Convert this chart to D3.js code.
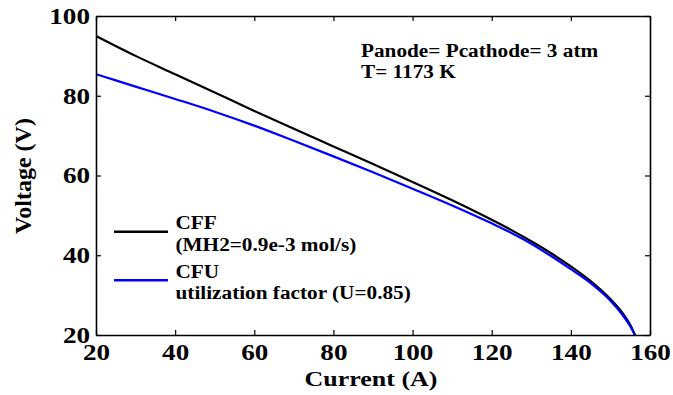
<!DOCTYPE html>
<html>
<head>
<meta charset="utf-8">
<script src="https://cdn.jsdelivr.net/npm/d3@7"></script>
</head>
<body style="margin:0">
<svg id="chart" width="673" height="395" style="font-family: serif"></svg>
<script>
// Polarization curves: stack voltage versus current
const currentCFF = [20, 30, 40, 50, 60, 70, 80, 90, 100, 110, 120, 125, 130, 135, 140, 145, 150, 153, 155, 156.2];
const voltageCFF = [95.0, 90.0, 85.4, 80.8, 76.2, 71.7, 67.3, 62.9, 58.4, 53.8, 48.9, 46.3, 43.5, 40.5, 37.2, 33.5, 29.0, 25.6, 22.6, 20.0];

const currentCFU = [20, 30, 40, 50, 60, 70, 80, 90, 100, 110, 120, 125, 130, 135, 140, 145, 150, 153, 155, 156.2];
const voltageCFU = [85.4, 82.3, 79.2, 76.0, 72.5, 68.7, 64.8, 60.8, 56.7, 52.5, 48.0, 45.6, 42.9, 39.8, 36.5, 33.0, 28.6, 25.1, 22.2, 20.0];

const xTicks = [20, 40, 60, 80, 100, 120, 140, 160];
const yTicks = [20, 40, 60, 80, 100];

const legendLabels = [
  ["CFF", "(MH2=0.9e-3 mol/s)"],
  ["CFU", "utilization factor (U=0.85)"]
];
const seriesColors = ["#000000", "#0000ff"];
const annotationLines = ["Panode= Pcathode= 3 atm", "T= 1173 K"];

const widen = 1.18; // horizontal stretch of the lettering

const svg = d3.select("#chart");
const plot = { left: 96, right: 650, top: 16, bottom: 335 };

const x = d3.scaleLinear().domain([20, 160]).range([plot.left, plot.right]);
const y = d3.scaleLinear().domain([20, 100]).range([plot.bottom, plot.top]);

function styleText(sel, size) {
  return sel
    .style("font-family", "serif")
    .style("font-weight", "bold")
    .style("font-size", size + "px");
}

// Stretch glyphs sideways by setting an explicit text length
function stretch(sel) {
  sel.each(function () {
    const w = this.getComputedTextLength();
    d3.select(this)
      .attr("textLength", w * widen)
      .attr("lengthAdjust", "spacingAndGlyphs");
  });
  return sel;
}

function label(parent, px, py, str, size, anchor) {
  const t = styleText(parent.append("text"), size)
    .attr("x", px)
    .attr("y", py)
    .attr("text-anchor", anchor || "start")
    .text(str);
  return stretch(t);
}

// Curves, clipped to the axes box
svg.append("clipPath").attr("id", "clip")
  .append("rect")
  .attr("x", plot.left).attr("y", plot.top)
  .attr("width", plot.right - plot.left).attr("height", plot.bottom - plot.top);

const line = d3.line()
  .x(d => x(d[0]))
  .y(d => y(d[1]))
  .curve(d3.curveMonotoneX);

const series = [
  d3.zip(currentCFF, voltageCFF),
  d3.zip(currentCFU, voltageCFU)
];

svg.append("g").attr("clip-path", "url(#clip)")
  .selectAll("path")
  .data(series)
  .join("path")
  .attr("d", line)
  .attr("fill", "none")
  .attr("stroke", (d, i) => seriesColors[i])
  .attr("stroke-width", 2.2)
  .attr("stroke-linejoin", "round");

// Axes with inward ticks on all four sides
const tickLen = 5;
const gBottom = svg.append("g").attr("transform", `translate(0,${plot.bottom})`)
  .call(d3.axisBottom(x).tickValues(xTicks).tickSizeInner(-tickLen).tickSizeOuter(0).tickPadding(9));
const gTop = svg.append("g").attr("transform", `translate(0,${plot.top})`)
  .call(d3.axisTop(x).tickValues(xTicks).tickSizeInner(-tickLen).tickSizeOuter(0).tickFormat(""));
const gLeft = svg.append("g").attr("transform", `translate(${plot.left},0)`)
  .call(d3.axisLeft(y).tickValues(yTicks).tickSizeInner(-tickLen).tickSizeOuter(0).tickPadding(6));
const gRight = svg.append("g").attr("transform", `translate(${plot.right},0)`)
  .call(d3.axisRight(y).tickValues(yTicks).tickSizeInner(-tickLen).tickSizeOuter(0).tickFormat(""));

[gBottom, gTop, gLeft, gRight].forEach(g => {
  g.attr("font-family", null).attr("font-size", null);
  g.select(".domain").attr("stroke", "#000").attr("stroke-width", 1.6);
  g.selectAll(".tick line").attr("stroke", "#000").attr("stroke-width", 1.2);
  stretch(styleText(g.selectAll(".tick text"), 23));
});

// Axis titles
label(svg, (plot.left + plot.right) / 2 - 2, 386, "Current (A)", 22, "middle");

const yTitle = svg.append("g").attr("transform", "translate(31,176) rotate(-90)");
styleText(yTitle.append("text"), 24)
  .attr("text-anchor", "middle")
  .text("Voltage (V)");

// Operating conditions
annotationLines.forEach((t, i) => label(svg, 361, 56.7 + i * 21.3, t, 18));

// Legend
const legend = svg.append("g");
legendLabels.forEach((labels, i) => {
  const top = 229.3 + i * 48.4;
  legend.append("line")
    .attr("x1", 114).attr("x2", 168)
    .attr("y1", top + 2.5).attr("y2", top + 2.5)
    .attr("stroke", seriesColors[i])
    .attr("stroke-width", 2.5);
  labels.forEach((t, j) => label(legend, 175.5, top + j * 21.7, t, 18));
});
</script>
</body>
</html>
